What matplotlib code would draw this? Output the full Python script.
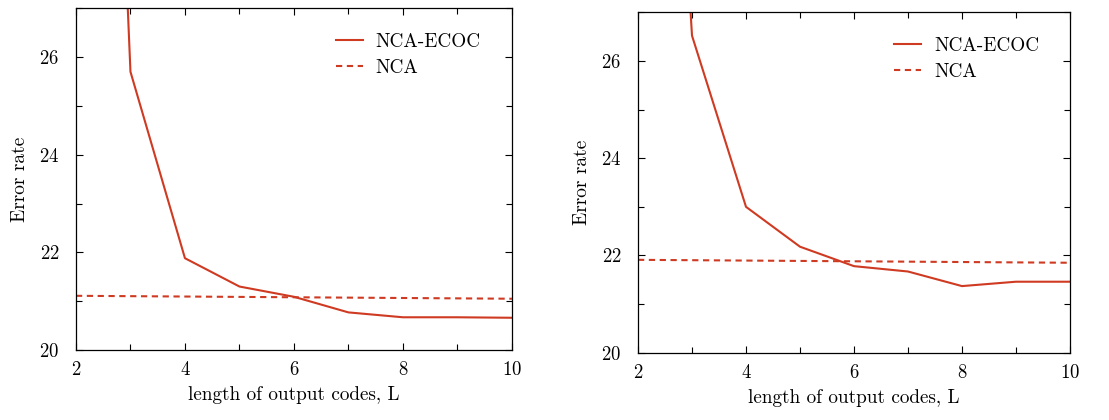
import matplotlib
matplotlib.use("Agg")
import matplotlib.pyplot as plt
from matplotlib.ticker import MultipleLocator

plt.rcParams['font.family'] = ['cmr10', 'DejaVu Serif']
plt.rcParams['axes.formatter.use_mathtext'] = True

# code length L
code_len = [2, 3, 4, 5, 6, 7, 8, 9, 10]

# left panel
ecoc_left = [52.0, 25.7, 21.88, 21.3, 21.09, 20.77, 20.67, 20.67, 20.66]
nca_left_x = [2, 10]
nca_left = [21.11, 21.05]

# right panel
ecoc_right = [45.0, 26.52, 23.0, 22.18, 21.78, 21.67, 21.37, 21.46, 21.46]
nca_right_x = [2, 10]
nca_right = [21.91, 21.85]

RED = "#cf3a22"

fig = plt.figure(figsize=(11.09, 4.2), dpi=100)
ax1 = fig.add_axes([0.0685, 0.1667, 0.3931, 0.8136])
ax2 = fig.add_axes([0.5753, 0.1602, 0.3895, 0.8105])

panels = [(ax1, ecoc_left, nca_left_x, nca_left), (ax2, ecoc_right, nca_right_x, nca_right)]
for ax, ecoc, nx, nca in panels:
    ax.plot(code_len, ecoc, color=RED, lw=1.5, label="NCA-ECOC")
    ax.plot(nx, nca, color=RED, lw=1.5, ls=(0, (3.0, 2.2)), label="NCA")
    ax.set_xlim(2, 10)
    ax.set_ylim(20, 27)
    ax.xaxis.set_major_locator(MultipleLocator(2))
    ax.xaxis.set_minor_locator(MultipleLocator(1))
    ax.yaxis.set_major_locator(MultipleLocator(2))
    ax.yaxis.set_minor_locator(MultipleLocator(1))
    ax.tick_params(which="both", direction="in", top=True, right=True, labelsize=13.5)
    ax.tick_params(axis="y", pad=12)
    ax.tick_params(axis="x", pad=8)
    ax.tick_params(which="major", length=5, width=0.8)
    ax.tick_params(which="minor", length=4, width=0.8)
    for s in ax.spines.values():
        s.set_linewidth(0.9)
    ax.set_xlabel("length of output codes, L", fontsize=13.8, labelpad=5)
    ax.set_ylabel("Error rate", fontsize=14, labelpad=7)
    ax.legend(loc="upper right", bbox_to_anchor=(0.986, 1.0), frameon=False,
              fontsize=13.8, handlelength=1.45, handletextpad=0.65,
              borderaxespad=0.9, labelspacing=0.4)

fig.savefig("out.png", dpi=100)
